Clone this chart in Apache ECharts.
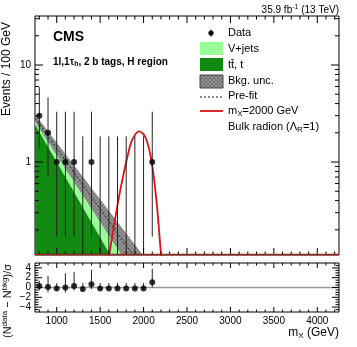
<!DOCTYPE html>
<html>
<head>
<meta charset="utf-8">
<script src="https://cdn.jsdelivr.net/npm/echarts@6/dist/echarts.min.js"></script>
<style>
html, body { margin: 0; padding: 0; background: #fff; }
#chart { width: 357px; height: 347px; }
</style>
</head>
<body>
<div id="chart"></div>
<script>
// observed events per 100 GeV bin
var massBins   = [800, 900, 1000, 1100, 1200, 1300, 1400, 1500, 1600, 1700, 1800, 1900, 2000, 2100];
var dataCounts = [3, 2, 1, 1, 1, 0, 1, 0, 0, 0, 0, 0, 0, 1];
var errDown    = [1.63, 1.29, 0.83, 0.83, 0.83, 0, 0.83, 0, 0, 0, 0, 0, 0, 0.83];
var errUp      = [2.92, 2.64, 2.30, 2.30, 2.30, 1.84, 2.30, 1.84, 1.84, 1.84, 1.84, 1.84, 1.84, 2.30];

// background shapes (straight on the log scale), read at the two ends
var bkgMass   = [750, 2100];
var ttbarTop  = [2.44, 0.0195];
var totalTop  = [2.65, 0.038];
var bandUp    = [3.10, 0.082];
var bandDown  = [2.60, 0.036];
var preFit    = [2.85, 0.058];

// signal m_X = 2000 GeV
var sigMass = [1590, 1605, 1671, 1740, 1824, 1870, 1947, 2016, 2074, 2112, 2151, 2178, 2201, 2215];
var sigVal  = [0.09, 0.111, 0.254, 0.56, 1.24, 1.70, 2.07, 1.84, 1.24, 0.77, 0.378, 0.20, 0.111, 0.09];

// (N_data - N_bkg) / sigma
var pull   = [0.3, 0.1, -0.2, 0.0, 0.3, -0.3, 0.65, -0.2, -0.2, -0.2, -0.2, -0.2, -0.2, 1.05];
var pullLo = [-0.6, -1.0, -0.6, -1.0, -0.6, -0.8, -0.3, -0.5, -0.5, -0.5, -0.5, -0.5, -0.5, 0.0];
var pullHi = [1.35, 2.4, 0.9, 2.9, 3.2, 0.9, 3.6, 0.9, 0.9, 0.9, 0.9, 0.9, 0.9, 3.8];

var xMin = 750, xMax = 4250;
var yMin = 0.11, yMax = 32;
var logMajor = [1, 10];
var logMinor = [0.2, 0.3, 0.4, 0.5, 0.6, 0.7, 0.8, 0.9, 2, 3, 4, 5, 6, 7, 8, 9, 20, 30];

var FONT = 'Liberation Sans, Arial, Helvetica, sans-serif';

function hatch() {
  var c = document.createElement('canvas');
  c.width = 4; c.height = 4;
  var g = c.getContext('2d');
  g.fillStyle = '#939393';
  g.fillRect(0, 0, 4, 4);
  g.strokeStyle = '#727272';
  g.lineWidth = 1;
  g.beginPath();
  g.moveTo(0, 4); g.lineTo(4, 0);
  g.moveTo(0, 0); g.lineTo(4, 4);
  g.stroke();
  return c;
}
var hatchImg = hatch();

var chart = echarts.init(document.getElementById('chart'));

function seg(x1, y1, x2, y2, col, w) {
  return { type: 'line', shape: { x1: x1, y1: y1, x2: x2, y2: y2 },
           style: { stroke: col || '#000', lineWidth: w || 1 } };
}

// tick marks on all four sides, ROOT style
function mainTicks(params, api) {
  var kids = [];
  var lb = api.coord([xMin, yMin]), rt = api.coord([xMax, yMax]);
  for (var v = 800; v <= 4200; v += 100) {
    var p = api.coord([v, yMin])[0];
    var len = v % 500 === 0 ? 7 : 3.5;
    kids.push(seg(p, lb[1], p, lb[1] - len), seg(p, rt[1], p, rt[1] + len));
  }
  logMajor.concat(logMinor).forEach(function (v) {
    var q = api.coord([xMin, v])[1];
    var len = logMajor.indexOf(v) >= 0 ? 8 : 4;
    kids.push(seg(lb[0], q, lb[0] + len, q), seg(rt[0], q, rt[0] - len, q));
  });
  // signal histogram sitting on the floor
  kids.push(seg(lb[0], lb[1] - 0.5, rt[0], lb[1] - 0.5, '#9b2418', 1.6));
  return { type: 'group', children: kids };
}

function ratioTicks(params, api) {
  var kids = [];
  var lb = api.coord([xMin, -5]), rt = api.coord([xMax, 5]);
  for (var v = 800; v <= 4200; v += 100) {
    var p = api.coord([v, -5])[0];
    var len = v % 500 === 0 ? 5 : 2.5;
    kids.push(seg(p, lb[1], p, lb[1] - len), seg(p, rt[1], p, rt[1] + len));
  }
  for (var y = -4.5; y <= 4.5; y += 0.5) {
    var q = api.coord([xMin, y])[1];
    var l2 = (y % 2 === 0) ? 7 : 3.5;
    kids.push(seg(lb[0], q, lb[0] + l2, q), seg(rt[0], q, rt[0] - l2, q));
  }
  var z = api.coord([xMin, 0])[1];
  kids.unshift(seg(lb[0], z, rt[0], z, '#999', 1.5));
  return { type: 'group', children: kids };
}

function band(params, api) {
  var pts = [];
  for (var i = 0; i < bkgMass.length; i++) pts.push(api.coord([bkgMass[i], bandUp[i]]));
  for (var j = bkgMass.length - 1; j >= 0; j--) pts.push(api.coord([bkgMass[j], bandDown[j]]));
  return { type: 'polygon', shape: { points: pts },
           style: { fill: { image: hatchImg, repeat: 'repeat' }, opacity: 0.95 } };
}

function errBars(lo, hi, xs) {
  return function (params, api) {
    var i = params.dataIndex;
    var a = api.coord([xs[i], lo[i]]), b = api.coord([xs[i], hi[i]]);
    return seg(a[0], a[1], b[0], b[1], '#222', 1);
  };
}

var dataLo = dataCounts.map(function (c, i) { return Math.max(c - errDown[i], 0.05); });
var dataHi = dataCounts.map(function (c, i) { return c + errUp[i]; });

function pairs(xs, ys) {
  return xs.map(function (x, i) { return [x, ys[i]]; });
}

function T(o) { return { type: 'text', x: o.x, y: o.y, rotation: o.rot || 0, z: 100,
  style: Object.assign({ fontFamily: FONT, fill: '#000', fontSize: 11, verticalAlign: 'middle' }, o.s) }; }

var legX = 200, legW = 23, legT = 228;

chart.setOption({
  animation: false,
  grid: [
    { left: 35, top: 16, width: 304, height: 239, show: true, borderColor: '#000', borderWidth: 1, backgroundColor: 'transparent', outerBoundsMode: 'none' },
    { left: 35, top: 263, width: 304, height: 49, show: true, borderColor: '#000', borderWidth: 1, backgroundColor: 'transparent', outerBoundsMode: 'none' }
  ],
  xAxis: [
    { gridIndex: 0, type: 'value', min: xMin, max: xMax, interval: 250,
      axisLine: { show: false }, axisTick: { show: false }, axisLabel: { show: false }, splitLine: { show: false } },
    { gridIndex: 1, type: 'value', min: xMin, max: xMax, interval: 250,
      axisLine: { show: false }, axisTick: { show: false }, splitLine: { show: false },
      axisLabel: { fontFamily: FONT, fontSize: 10, color: '#000', margin: 4, showMinLabel: true, showMaxLabel: true,
        formatter: function (v) { return v % 500 === 0 ? String(v) : ''; } } }
  ],
  yAxis: [
    { gridIndex: 0, type: 'log', logBase: 10, min: yMin, max: yMax,
      axisLine: { show: false }, axisTick: { show: false }, splitLine: { show: false },
      axisLabel: { fontFamily: FONT, fontSize: 10, color: '#000', margin: 4,
        formatter: function (v) { return (Math.abs(v - 1) < 1e-6 || Math.abs(v - 10) < 1e-6) ? String(Math.round(v)) : ''; } } },
    { gridIndex: 1, type: 'value', min: -5, max: 5, interval: 1,
      axisLine: { show: false }, axisTick: { show: false }, splitLine: { show: false },
      axisLabel: { fontFamily: FONT, fontSize: 10, color: '#000', margin: 4,
        formatter: function (v) { return v % 2 === 0 ? String(v).replace('-', '\u2212') : ''; } } }
  ],
  series: [
    { type: 'line', name: 'V+jets', xAxisIndex: 0, yAxisIndex: 0, data: pairs(bkgMass, totalTop),
      symbol: 'none', lineStyle: { width: 0 }, areaStyle: { color: '#99ff99', opacity: 1 }, z: 1 },
    { type: 'line', name: 'tt', xAxisIndex: 0, yAxisIndex: 0, data: pairs(bkgMass, ttbarTop),
      symbol: 'none', lineStyle: { width: 0 }, areaStyle: { color: '#118a11', opacity: 1 }, z: 1 },
    { type: 'custom', name: 'Bkg. unc.', xAxisIndex: 0, yAxisIndex: 0, clip: true, data: [[1000, 1]],
      renderItem: band, z: 2 },
    { type: 'line', name: 'Pre-fit', xAxisIndex: 0, yAxisIndex: 0, data: pairs(bkgMass, preFit),
      symbol: 'none', lineStyle: { color: '#222', width: 1, type: [2, 2] }, z: 3 },
    { type: 'line', name: 'signal', xAxisIndex: 0, yAxisIndex: 0, data: pairs(sigMass, sigVal),
      symbol: 'none', smooth: 0.35, lineStyle: { color: '#dd1111', width: 1.8 }, z: 4 },
    { type: 'custom', name: 'data err', xAxisIndex: 0, yAxisIndex: 0, clip: true,
      data: pairs(massBins, dataCounts.map(function (c) { return Math.max(c, 0.2); })),
      renderItem: errBars(dataLo, dataHi, massBins), z: 5 },
    { type: 'scatter', name: 'Data', xAxisIndex: 0, yAxisIndex: 0,
      data: pairs(massBins, dataCounts.map(function (c) { return c > 0 ? c : '-'; })),
      symbol: 'circle', symbolSize: 6, itemStyle: { color: '#000' }, z: 6 },
    { type: 'custom', name: 'ticks', xAxisIndex: 0, yAxisIndex: 0, clip: false, data: [[1000, 1]],
      renderItem: mainTicks, z: 7 },

    { type: 'custom', name: 'ratio ticks', xAxisIndex: 1, yAxisIndex: 1, clip: false, data: [[1000, 0]],
      renderItem: ratioTicks, z: 1 },
    { type: 'custom', name: 'pull err', xAxisIndex: 1, yAxisIndex: 1, clip: true, data: pairs(massBins, pull),
      renderItem: errBars(pullLo, pullHi, massBins), z: 5 },
    { type: 'scatter', name: 'pull', xAxisIndex: 1, yAxisIndex: 1, data: pairs(massBins, pull),
      symbol: 'circle', symbolSize: 6, itemStyle: { color: '#000' }, z: 6 }
  ],
  graphic: [
    T({ x: 53, y: 37.5, s: { text: 'CMS', fontSize: 14, fontWeight: 'bold' } }),
    T({ x: 53, y: 62, s: { text: '{b|1l,1\u03c4}{bs|h}{b|, 2 b tags, H region}',
        rich: { b: { fontFamily: FONT, fontSize: 10, fontWeight: 'bold', lineHeight: 12 },
                bs: { fontFamily: FONT, fontSize: 7, fontWeight: 'bold', lineHeight: 7, padding: [5, 0, 0, 0] } } } }),
    T({ x: 339, y: 10, s: { align: 'right', text: '{a|35.9 fb}{s|-1}{a| (13 TeV)}',
        rich: { a: { fontFamily: FONT, fontSize: 10, lineHeight: 12 },
                s: { fontFamily: FONT, fontSize: 7, lineHeight: 7, padding: [0, 0, 5, 0] } } } }),
    T({ x: 7, y: 69, rot: Math.PI / 2, s: { align: 'center', text: 'Events / 100 GeV', fontSize: 12 } }),
    T({ x: 8, y: 301, rot: Math.PI / 2, s: { align: 'center',
        text: '{a|(N}{s|data}{a| \u2212 N}{s|bkg}{a|)/\u03c3}',
        rich: { a: { fontFamily: FONT, fontSize: 11, lineHeight: 13 },
                s: { fontFamily: FONT, fontSize: 8, lineHeight: 8, padding: [0, 0, 6, 0] } } } }),
    T({ x: 339, y: 333, s: { align: 'right', text: '{a|m}{s|X}{a| (GeV)}',
        rich: { a: { fontFamily: FONT, fontSize: 12, lineHeight: 14 },
                s: { fontFamily: FONT, fontSize: 8, lineHeight: 8, padding: [6, 0, 0, 0] } } } }),

    // legend
    { type: 'circle', shape: { cx: 211, cy: 33, r: 2.6 }, style: { fill: '#000' }, z: 100 },
    { type: 'line', shape: { x1: 211, y1: 29.5, x2: 211, y2: 36.5 }, style: { stroke: '#000', lineWidth: 1 }, z: 100 },
    T({ x: legT, y: 33, s: { text: 'Data' } }),
    { type: 'rect', shape: { x: legX, y: 42, width: legW, height: 13 }, style: { fill: '#99ff99' }, z: 100 },
    T({ x: legT, y: 49, s: { text: 'V+jets' } }),
    { type: 'rect', shape: { x: legX, y: 58, width: legW, height: 13 }, style: { fill: '#118a11' }, z: 100 },
    T({ x: legT, y: 65, s: { text: 't\u0074\u0304, t' } }),
    { type: 'rect', shape: { x: legX, y: 75, width: legW, height: 13 },
      style: { fill: { image: hatchImg, repeat: 'repeat' }, stroke: '#444', lineWidth: 1 }, z: 100 },
    T({ x: legT, y: 81, s: { text: 'Bkg. unc.' } }),
    { type: 'line', shape: { x1: legX, y1: 97, x2: legX + legW, y2: 97 }, style: { stroke: '#222', lineWidth: 1, lineDash: [2, 2] }, z: 100 },
    T({ x: legT, y: 96, s: { text: 'Pre-fit' } }),
    { type: 'line', shape: { x1: legX, y1: 111, x2: legX + legW, y2: 111 }, style: { stroke: '#dd1111', lineWidth: 1.8 }, z: 100 },
    T({ x: legT, y: 111, s: { text: '{a|m}{s|X}{a|=2000 GeV}',
        rich: { a: { fontFamily: FONT, fontSize: 11, lineHeight: 13 },
                s: { fontFamily: FONT, fontSize: 8, lineHeight: 8, padding: [5, 0, 0, 0] } } } }),
    T({ x: legT, y: 127, s: { text: '{a|Bulk radion (\u039b}{s|R}{a|=1)}',
        rich: { a: { fontFamily: FONT, fontSize: 11, lineHeight: 13 },
                s: { fontFamily: FONT, fontSize: 8, lineHeight: 8, padding: [5, 0, 0, 0] } } } })
  ]
});
</script>
</body>
</html>
